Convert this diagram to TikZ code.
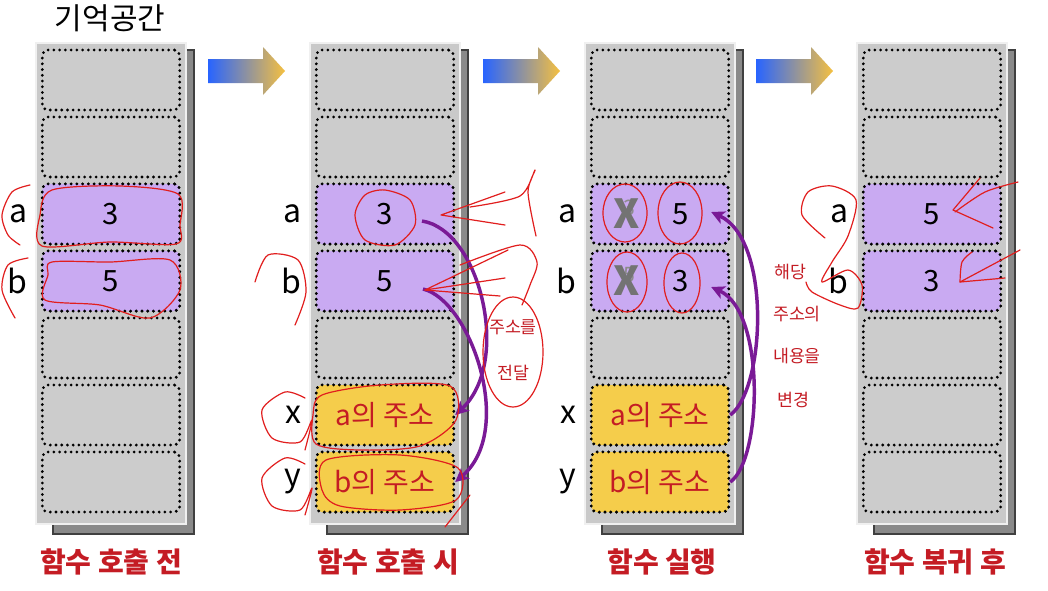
\documentclass[tikz,border=0pt]{standalone}
\usepackage{fontspec}
\setmainfont{Noto Sans CJK KR}
\usetikzlibrary{arrows.meta,positioning,calc}
\definecolor{boxgray}{RGB}{201,201,201}
\definecolor{cellgray}{RGB}{204,204,204}
\definecolor{shadegray}{RGB}{138,138,138}
\definecolor{varpurple}{RGB}{201,170,242}
\definecolor{addryellow}{RGB}{245,205,75}
\definecolor{labelred}{RGB}{196,28,36}
\definecolor{linkpurple}{RGB}{122,26,150}
\definecolor{gradblue}{RGB}{40,100,255}
\definecolor{gradgold}{RGB}{245,192,64}
\definecolor{scribred}{RGB}{225,30,30}

\begin{document}
\begin{tikzpicture}[x=0.75pt,y=-0.75pt,
    membox/.style={fill=boxgray, draw=white!88!gray, line width=0.8pt},
    shadowbox/.style={fill=shadegray, draw=black!75, line width=0.8pt},
    memcell/.style={draw=black, line width=2.3pt, dash pattern=on 0pt off 4.3pt,
      line cap=round, rounded corners=4pt, fill=cellgray, minimum width=103pt,
      minimum height=45pt, inner sep=0pt, font=\fontsize{22}{24}\selectfont},
    varlbl/.style={inner sep=0pt, font=\fontsize{24}{26}\selectfont},
    addrtxt/.style={text=labelred, font=\fontsize{21}{23}\selectfont},
    steplbl/.style={text=labelred, font=\fontsize{21}{23}\selectfont\bfseries},
    crossmark/.style={text=black!55, font=\fontsize{30}{32}\selectfont\bfseries},
    oldval/.style={text=black!45, font=\fontsize{16}{18}\selectfont},
    link/.style={draw=linkpurple, line width=2.6pt,
      -{Stealth[length=10pt, width=10pt, inset=2.5pt]}},
    memo/.style={text=labelred, inner sep=0pt, font=\fontsize{13}{15}\selectfont},
    scribble/.style={draw=scribred, line width=0.9pt, line cap=round, line join=round}]

\useasboundingbox[fill=white] (0,0) rectangle (1048,590);

% memory columns
\foreach \cx [count=\k] in {111,385,660,932}{
  \draw[shadowbox] (\cx-58,50) rectangle (\cx+83,534);
  \draw[membox] (\cx-75,43) rectangle (\cx+75,524);
  \foreach \i in {1,...,7}
    \node[memcell] (m\k-\i) at (\cx,{13+67*\i}) {};
}

% gradient arrows between columns
\foreach \ax in {208,483,756}
  \shade[left color=gradblue, right color=gradgold]
    (\ax,59) -- ++(55,0) -- ++(0,-12) -- ++(22,24) -- ++(-22,24) -- ++(0,-12) -- ++(-55,0) -- cycle;

\node[font=\fontsize{22.5}{24}\selectfont] (title) at (110,18) {기억공간};

% before the call
\node[memcell, fill=varpurple] (a1) at (m1-3) {3};
\node[memcell, fill=varpurple] (b1) at (m1-4) {5};
\node[varlbl, left=10pt of a1] (la1) {a};
\node[varlbl, left=10pt of b1] (lb1) {b};

% during the call
\node[memcell, fill=varpurple] (a2) at (m2-3) {3};
\node[memcell, fill=varpurple] (b2) at (m2-4) {5};
\node[memcell, fill=addryellow, addrtxt] (x2) at (m2-6) {a의 주소};
\node[memcell, fill=addryellow, addrtxt] (y2) at (m2-7) {b의 주소};
\node[varlbl, left=10pt of a2] (la2) {a};
\node[varlbl, left=10pt of b2] (lb2) {b};
\node[varlbl, left=10pt of x2] (lx2) {x};
\node[varlbl, left=10pt of y2] (ly2) {y};

% running
\node[memcell, fill=varpurple] (a3) at (m3-3) {};
\node[memcell, fill=varpurple] (b3) at (m3-4) {};
\node[memcell, fill=addryellow, addrtxt] (x3) at (m3-6) {a의 주소};
\node[memcell, fill=addryellow, addrtxt] (y3) at (m3-7) {b의 주소};
\node[oldval] (oa3) at ($(a3)+(-31,-6)$) {3};
\node[crossmark] (xa3) at ($(a3)+(-33,0)$) {X};
\node[font=\fontsize{22}{24}\selectfont] (va3) at ($(a3)+(21,0)$) {5};
\node[oldval] (ob3) at ($(b3)+(-31,-6)$) {5};
\node[crossmark] (xb3) at ($(b3)+(-33,0)$) {X};
\node[font=\fontsize{22}{24}\selectfont] (vb3) at ($(b3)+(21,0)$) {3};
\node[varlbl, left=10pt of a3] (la3) {a};
\node[varlbl, left=10pt of b3] (lb3) {b};
\node[varlbl, left=10pt of x3] (lx3) {x};
\node[varlbl, left=10pt of y3] (ly3) {y};

% after return
\node[memcell, fill=varpurple] (a4) at (m4-3) {5};
\node[memcell, fill=varpurple] (b4) at (m4-4) {3};
\node[varlbl, left=10pt of a4] (la4) {a};
\node[varlbl, left=10pt of b4] (lb4) {b};

% step captions
\node[steplbl] (s1) at (111,562) {함수 호출 전};
\node[steplbl] (s2) at (388,562) {함수 호출 시};
\node[steplbl] (s3) at (662,562) {함수 실행};
\node[steplbl] (s4) at (935,562) {함수 복귀 후};

% address links
\coordinate (p2a) at ($(a2)+(37,7)$);
\coordinate (p2b) at ($(b2)+(38,8)$);
\draw[link] (p2a) .. controls (480,230) and (512,362) .. (x2.east);
\draw[link] (p2b) .. controls (470,300) and (516,430) .. (y2.east);
\coordinate (p3a) at ($(a3.east)+(-19,-2)$);
\coordinate (p3b) at ($(b3.east)+(-19,6)$);
\draw[link] (x3.east) .. controls (765,390) and (772,240) .. (p3a);
\draw[link] (y3.east) .. controls (762,460) and (766,312) .. (p3b);

% handwritten notes
\node[memo] (n1) at (513,327) {주소를};
\node[memo] (n2) at (513,373) {전달};
\node[memo] (n3) at (790,272) {해당};
\node[memo] (n4) at (797,314) {주소의};
\node[memo] (n5) at (797,356) {내용을};
\node[memo] (n6) at (793,400) {변경};

% red marks
\draw[scribble] plot[smooth cycle] coordinates {(52,190) (120,186) (178,194) (180,225) (176,244) (110,242) (42,246) (40,215)};
\draw[scribble] plot[smooth cycle] coordinates {(52,262) (110,262) (170,260) (180,290) (150,318) (100,305) (45,300) (48,275)};
\draw[scribble] plot[smooth] coordinates {(30,185) (12,192) (2,215) (8,235) (20,245)};
\draw[scribble] plot[smooth] coordinates {(28,258) (8,265) (2,290) (15,318)};
\draw[scribble] plot[smooth cycle] coordinates {(385,190) (410,200) (415,225) (395,245) (365,240) (355,215) (365,195)};
\draw[scribble] (505,192) -- (441,215) -- (505,225);
\draw[scribble] plot[smooth] coordinates {(470,207) (520,196) (535,170) (528,192) (536,236)};
\draw[scribble] (508,250) -- (425,290) -- (505,278);
\draw[scribble] (425,290) -- (500,296);
\draw[scribble] plot[smooth] coordinates {(460,265) (520,245) (537,262) (530,285) (522,305)};
\draw[scribble] plot[smooth] coordinates {(255,282) (268,255) (298,260) (306,292) (295,325)};
\draw[scribble] plot[smooth] coordinates {(305,398) (285,392) (262,410) (272,438) (300,442) (312,420) (305,450)};
\draw[scribble] plot[smooth] coordinates {(305,464) (285,458) (262,478) (272,506) (300,510) (312,488) (305,515)};
\draw[scribble] (513,352) ellipse (30 and 55);
\draw[scribble] plot[smooth cycle] coordinates {(322,395) (380,385) (450,386) (456,420) (420,446) (360,450) (316,444) (313,415)};
\draw[scribble] plot[smooth cycle] coordinates {(326,460) (400,455) (458,468) (456,500) (400,510) (340,506) (322,490)};
\draw[scribble] (445,527) -- (470,495);
\draw[scribble] (625,213) ellipse (22 and 29);
\draw[scribble] (680,213) ellipse (22 and 31);
\draw[scribble] (627,282) ellipse (20 and 30);
\draw[scribble] (682,283) ellipse (18 and 30);
\draw[scribble] (980,178) -- (953,210) -- (993,228);
\draw[scribble] plot[smooth] coordinates {(1018,182) (985,192) (955,212)};
\draw[scribble] (1020,250) -- (960,282) -- (1005,278);
\draw[scribble] plot[smooth] coordinates {(972,252) (962,262) (960,282)};
\draw[scribble] plot[smooth] coordinates {(825,238) (802,215) (808,192) (832,186) (856,200) (848,236) (832,262) (822,282) (848,270) (862,285) (858,308) (840,305) (812,292) (806,282)};
\end{tikzpicture}
\end{document}
